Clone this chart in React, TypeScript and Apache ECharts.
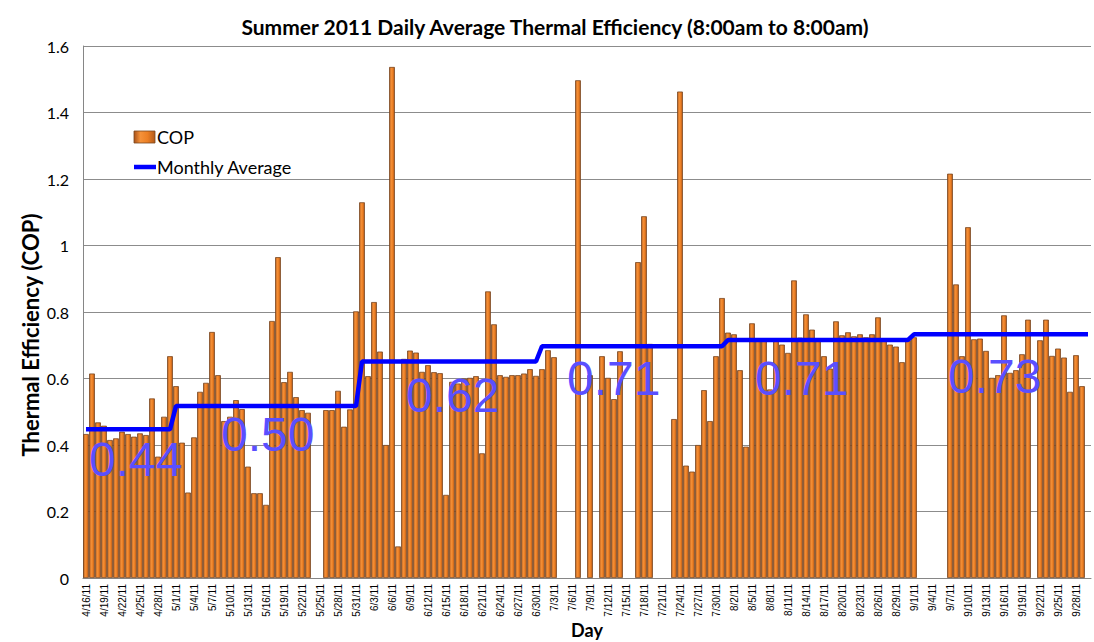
import React, { useEffect, useRef } from 'react';
import * as echarts from 'echarts';

// Days from 4/16/11 to 9/30/11
const monthNums = [4, 5, 6, 7, 8, 9];
const monthFirstDay = [16, 1, 1, 1, 1, 1];
const monthLastDay = [30, 31, 30, 31, 31, 30];

const monthlyAverage = [0.447, 0.517, 0.651, 0.697, 0.716, 0.733];
const monthlyAverageText = ['0.44', '0.50', '0.62', '0.71', '0.71', '0.73'];

const days: string[] = [];
const dayMonth: number[] = [];
monthNums.forEach((m, k) => {
  for (let d = monthFirstDay[k]; d <= monthLastDay[k]; d++) {
    days.push(`${m}/${d}/11`);
    dayMonth.push(k);
  }
});

const cop: (number | null)[] = [
  // April 16-30
  0.433, 0.615, 0.468, 0.458, 0.415, 0.42, 0.44, 0.433, 0.425, 0.435, 0.43, 0.54, 0.365, 0.485, 0.667,
  // May
  0.577, 0.407, 0.257, 0.423, 0.56, 0.587, 0.74, 0.61, 0.472, 0.485, 0.535, 0.508, 0.335, 0.255, 0.255,
  0.22, 0.773, 0.965, 0.589, 0.62, 0.544, 0.505, 0.497, null, null, 0.505, 0.505, 0.563, 0.455, 0.507, 0.802,
  // June
  1.13, 0.607, 0.83, 0.681, 0.4, 1.537, 0.095, 0.659, 0.684, 0.678, 0.62, 0.64, 0.619, 0.616, 0.25,
  0.59, 0.585, 0.6, 0.602, 0.607, 0.375, 0.862, 0.763, 0.61, 0.605, 0.61, 0.61, 0.615, 0.628, 0.608,
  // July
  0.628, 0.685, 0.664, null, null, null, 1.497, null, 0.61, null, 0.667, 0.602, 0.538, 0.682, null,
  null, 0.95, 1.088, 0.704, null, null, null, 0.478, 1.463, 0.338, 0.32, 0.4, 0.565, 0.472, 0.667, 0.842,
  // August
  0.738, 0.733, 0.625, 0.395, 0.766, 0.72, 0.72, 0.567, 0.72, 0.702, 0.677, 0.895, 0.723, 0.793, 0.747,
  0.72, 0.667, 0.63, 0.772, 0.73, 0.739, 0.727, 0.733, 0.724, 0.733, 0.784, 0.72, 0.702, 0.696, 0.649, 0.715,
  // September
  0.724, null, null, null, null, null, 1.216, 0.883, 0.667, 1.055, 0.718, 0.72, 0.683, 0.602, 0.61,
  0.79, 0.617, 0.625, 0.673, 0.777, null, 0.715, 0.777, 0.668, 0.69, 0.663, 0.56, 0.67, 0.577, null,
];

const lineData = dayMonth.map((k) => monthlyAverage[k]);

// pixel placement (left, glyph top) of the monthly average annotations
const annotationPos: [number, number][] = [
  [89, 443], [221, 418], [406, 379], [567, 362], [755, 362], [948, 360],
];

export default function App() {
  const ref = useRef<HTMLDivElement>(null);
  useEffect(() => {
    if (!ref.current) return;
    const chart = echarts.init(ref.current, null, { renderer: 'svg' });
    const mkBar = () =>
      new echarts.graphic.LinearGradient(0, 0, 1, 0, [
        { offset: 0, color: '#a9521a' },
        { offset: 0.3, color: '#f5923a' },
        { offset: 0.65, color: '#ec7f24' },
        { offset: 1, color: '#b35a1a' },
      ]);
    const option: any = {
      animation: false,
      backgroundColor: '#ffffff',
      grid: { left: 83, right: 3, top: 46, bottom: 64 },
      xAxis: {
        type: 'category',
        data: days,
        boundaryGap: true,
        axisLine: { lineStyle: { color: '#868686' } },
        axisTick: { show: false },
        axisLabel: {
          interval: 2,
          rotate: 90,
          fontSize: 10,
          fontFamily: 'Liberation Sans',
          color: '#000',
          margin: 6,
        },
      },
      yAxis: {
        type: 'value',
        min: 0,
        max: 1.6,
        interval: 0.2,
        axisLine: { show: true, lineStyle: { color: '#868686' } },
        axisTick: { show: false },
        splitLine: { lineStyle: { color: '#8c8c8c' } },
        axisLabel: { fontSize: 16, fontFamily: 'Lato', color: '#000', margin: 14 },
      },
      series: [
        {
          name: 'COP',
          type: 'bar',
          data: cop,
          barCategoryGap: '4%',
          itemStyle: { color: mkBar(), borderColor: '#7a4620', borderWidth: 0.8 },
        },
        {
          name: 'Monthly Average',
          type: 'line',
          data: lineData,
          symbol: 'none',
          z: 5,
          lineStyle: { color: '#0000ff', width: 4.5 },
          itemStyle: { color: '#0000ff' },
        },
      ],
      graphic: [
        {
          type: 'text',
          x: 555,
          y: 26,
          style: {
            text: 'Summer 2011 Daily Average Thermal Efficiency (8:00am to 8:00am)',
            font: 'bold 21px Lato',
            fill: '#000',
            textAlign: 'center',
            textVerticalAlign: 'middle',
          },
        },
        {
          type: 'text',
          x: 30,
          y: 335,
          rotation: Math.PI / 2,
          style: {
            text: 'Thermal Efficiency (COP)',
            font: 'bold 22px Lato',
            fill: '#000',
            textAlign: 'center',
            textVerticalAlign: 'middle',
          },
        },
        {
          type: 'text',
          x: 587,
          y: 630,
          style: {
            text: 'Day',
            font: 'bold 18px Lato',
            fill: '#000',
            textAlign: 'center',
            textVerticalAlign: 'middle',
          },
        },
        // legend
        {
          type: 'rect',
          shape: { x: 134, y: 131, width: 21, height: 12 },
          style: { fill: mkBar(), stroke: '#7a4620', lineWidth: 0.8 },
        },
        {
          type: 'text',
          x: 157,
          y: 137,
          style: { text: 'COP', font: '18px Lato', fill: '#000', textVerticalAlign: 'middle' },
        },
        {
          type: 'line',
          shape: { x1: 134, y1: 167, x2: 156, y2: 167 },
          style: { stroke: '#0000ff', lineWidth: 4.5 },
        },
        {
          type: 'text',
          x: 157,
          y: 167,
          style: { text: 'Monthly Average', font: '18px Lato', fill: '#000', textVerticalAlign: 'middle' },
        },
        ...monthlyAverageText.map((t, k) => ({
          type: 'text',
          x: annotationPos[k][0],
          y: annotationPos[k][1] - 8,
          z: 10,
          style: {
            text: t,
            font: '48px "Liberation Sans"',
            fill: '#5a4fff',
            textAlign: 'left',
            textVerticalAlign: 'top',
          },
        })),
      ],
    };
    chart.setOption(option);
    return () => chart.dispose();
  }, []);
  return (
    <div
      ref={ref}
      style={{ position: 'fixed', left: 0, top: 0, width: 1094, height: 642 }}
    />
  );
}
